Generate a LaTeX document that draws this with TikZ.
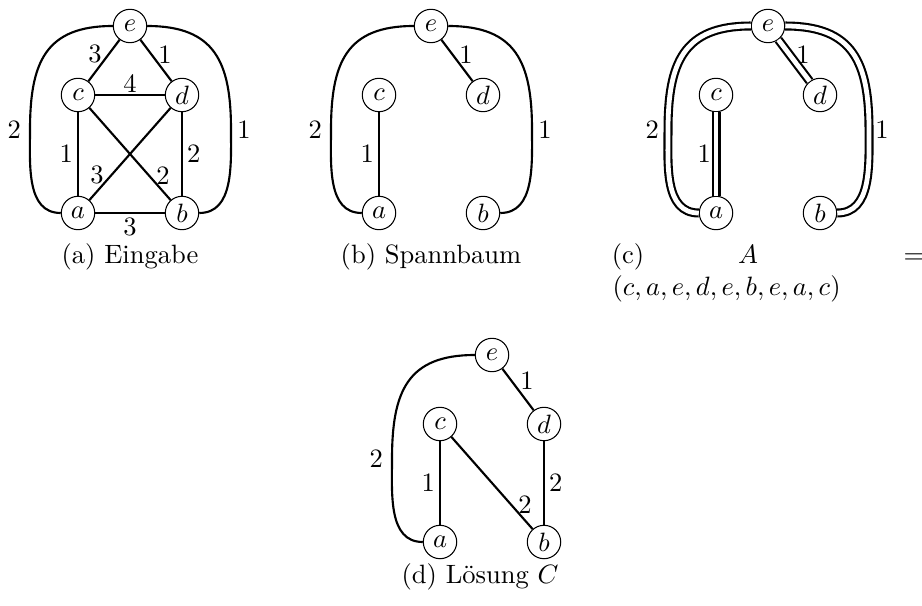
\documentclass[tikz,border=0pt]{standalone}
\usepackage{amsmath}
\usepackage{tikz}
\usetikzlibrary{calc}

\begin{document}
\begin{tikzpicture}[x=0.377pt,y=-0.377pt,
  vertex/.style={draw,circle,thin,minimum size=12.6pt,inner sep=0pt},
  edge/.style={thick},
  tour/.style={thick,double,double distance=1.8pt},
  wl/.style={inner sep=1.5pt}]
\useasboundingbox (0,0) rectangle (922,605);
% die vier Graphen
\foreach \g/\ox/\oy in {1/130/26,2/431/26,3/768/26,4/492/355}{
  \node[vertex] (e\g) at (\ox,\oy) {$e$};
  \node[vertex] (c\g) at (\ox-52,\oy+69) {$c$};
  \node[vertex] (d\g) at (\ox+52,\oy+69) {$d$};
  \node[vertex] (a\g) at (\ox-52,\oy+187) {$a$};
  \node[vertex] (b\g) at (\ox+52,\oy+187) {$b$};}
% (a) Eingabe
\draw[edge] (e1) -- node[wl,above left,inner sep=0.5pt,yshift=-2pt] {3} (c1);
\draw[edge] (e1) -- node[wl,above right,inner sep=0.5pt,yshift=-2pt] {1} (d1);
\draw[edge] (c1) -- node[wl,above,inner sep=0.5pt] {4} (d1);
\draw[edge] (c1) -- node[wl,left] {1} (a1);
\draw[edge] (d1) -- node[wl,right] {2} (b1);
\draw[edge] (a1) -- node[wl,pos=0.27,left=1pt] {3} (d1);
\draw[edge] (c1) -- node[wl,pos=0.73,right=1pt] {2} (b1);
\draw[edge] (a1) -- node[wl,below] {3} (b1);
\draw[edge] (a1) to[out=180,in=270] ++(-48,-83) node[wl,left=1.5pt] {2}
  to[out=90,in=180,looseness=1.3] (e1);
\draw[edge] (b1) to[out=0,in=270] ++(49,-83) node[wl,right=0.5pt] {1}
  to[out=90,in=0,looseness=1.3] (e1);
% (b) Spannbaum
\draw[edge] (e2) -- node[wl,above right,inner sep=0.5pt,yshift=-2pt] {1} (d2);
\draw[edge] (c2) -- node[wl,left] {1} (a2);
\draw[edge] (a2) to[out=180,in=270] ++(-48,-83) node[wl,left=1.5pt] {2}
  to[out=90,in=180,looseness=1.3] (e2);
\draw[edge] (b2) to[out=0,in=270] ++(49,-83) node[wl,right=0.5pt] {1}
  to[out=90,in=0,looseness=1.3] (e2);
% (c) Tour A
\draw[tour] (e3) -- node[wl,above right,inner sep=0.5pt,yshift=-2pt] {1} (d3);
\draw[tour] (c3) -- node[wl,left] {1} (a3);
\draw[tour] (a3) to[out=180,in=270] ++(-48,-83) node[wl,left=1.5pt] {2}
  to[out=90,in=180,looseness=1.3] (e3);
\draw[tour] (b3) to[out=0,in=270] ++(49,-83) node[wl,right=0.5pt] {1}
  to[out=90,in=0,looseness=1.3] (e3);
% (d) Loesung C
\draw[edge] (e4) -- node[wl,above right,inner sep=0.5pt,yshift=-1pt] {1} (d4);
\draw[edge] (c4) -- node[wl,left] {1} (a4);
\draw[edge] (c4) -- node[wl,pos=0.73,right=1pt] {2} (b4);
\draw[edge] (d4) -- node[wl,right] {2} (b4);
\draw[edge] (a4) to[out=180,in=270] ++(-48,-83) node[wl,left=1.5pt] {2}
  to[out=90,in=180,looseness=1.3] (e4);
% Unterschriften
\node[anchor=base] (capa) at (130,263) {(a) Eingabe};
\node[anchor=base] (capb) at (431,263) {(b) Spannbaum};
\node[anchor=base] (capc) at (628,263) {(c)};
\node[anchor=base] (capcA) at (748,263) {$A$};
\node[anchor=base] (capceq) at (914,263) {$=$};
\node[anchor=base west,inner sep=0pt] (capctour) at (612,295) {$(c,a,e,d,e,b,e,a,c)$};
\node[anchor=base] (capd) at (480,583) {(d) Lösung $C$};
\end{tikzpicture}
\end{document}
